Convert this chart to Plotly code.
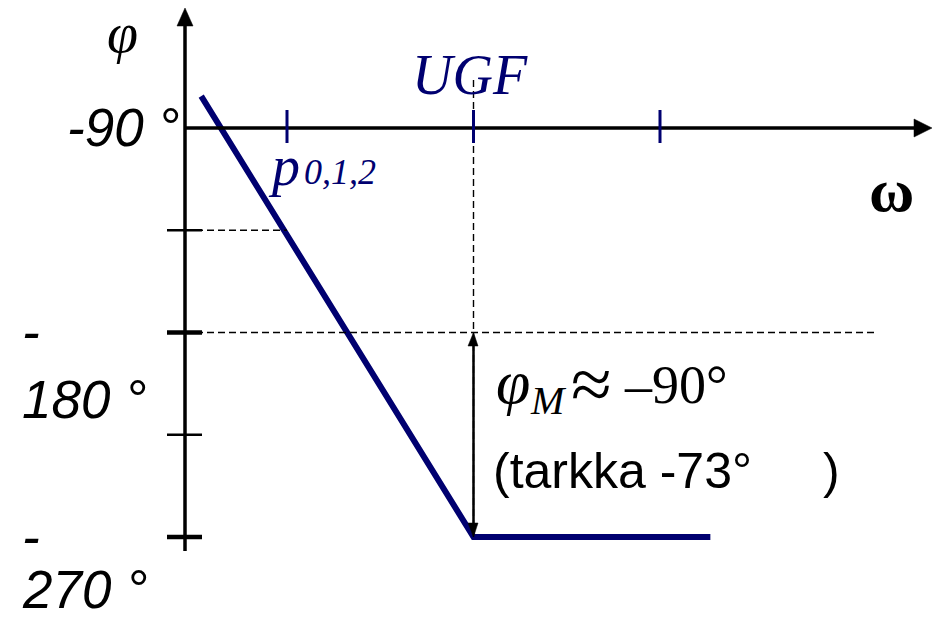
import plotly.graph_objects as go

# Asymptotic Bode phase plot of a three-pole loop (poles p0,1,2 coincide)
logw_line = [-0.46, 1.0, 2.27]        # log10(omega / p)
phase_line = [-76, -270, -270]        # phase, degrees

omega_ticks = [0, 1, 2]               # p0,1,2 ; UGF ; next decade
phase_ticks_major = [-180, -270]
phase_ticks_minor = [-135, -225]
ugf = 1.0
phase_ref = -180                      # stability limit
phase_at_p = -135

NAVY = "#000070"
SERIF = "Liberation Serif, Times New Roman, serif"
SANS = "Liberation Sans, Arial, sans-serif"

W, H = 934, 621
X0, DX = 287.0, 186.5                 # pixel of omega = p, pixels per decade
Y0, DY = 128.0, 409.0 / 180.0         # pixel of -90 deg, pixels per degree


def ux(px):
    return (px - X0) / DX


def uy(py):
    return -90 - (py - Y0) / DY


x_org = ux(185)
fig = go.Figure()

shapes = []


def seg(x0, y0, x1, y1, color="black", width=3.5, dash=None):
    d = dict(type="line", xref="x", yref="y", x0=x0, y0=y0, x1=x1, y1=y1,
             line=dict(color=color, width=width))
    if dash:
        d["line"]["dash"] = dash
    shapes.append(d)


def tri(pts, color="black"):
    path = "M " + " L ".join(f"{a},{b}" for a, b in pts) + " Z"
    shapes.append(dict(type="path", xref="x", yref="y", path=path,
                       fillcolor=color, line=dict(color=color, width=0.5)))


# dashed guide lines
seg(x_org, phase_at_p, 0, phase_at_p, width=1.4, dash="7px,4px")
seg(x_org, phase_ref, ux(878), phase_ref, width=1.4, dash="7px,4px")
seg(ugf, uy(80), ugf, -270, width=1.4, dash="7px,4px")

# axes with arrowheads
seg(x_org, -90, ux(916), -90, width=3.5)
tri([(ux(932), -90), (ux(914), uy(119)), (ux(914), uy(137))])
seg(x_org, uy(551), x_org, uy(24), width=3.5)
tri([(x_org, uy(8)), (ux(177), uy(26)), (ux(193), uy(26))])

# phase ticks
for p in phase_ticks_major:
    seg(ux(167), p, ux(202), p, width=4.5)
for p in phase_ticks_minor:
    seg(ux(167), p, ux(202), p, width=2.5)

# frequency ticks
for w in omega_ticks:
    seg(w, uy(110), w, uy(143), color=NAVY, width=3)

# phase margin double arrow
seg(ugf, uy(343), ugf, uy(526), width=2.5)
tri([(ugf, phase_ref), (ux(468), uy(346)), (ux(478), uy(346))])
tri([(ugf, -270), (ux(468), uy(523)), (ux(478), uy(523))])

fig.add_trace(go.Scatter(x=logw_line, y=phase_line, mode="lines",
                         line=dict(color=NAVY, width=6), hoverinfo="skip",
                         showlegend=False))

ann = []


def txt(x, y, s, size, family, color="black", xa="center", ya="middle"):
    ann.append(dict(x=ux(x), y=uy(y), xref="x", yref="y", text=s, showarrow=False,
                    xanchor=xa, yanchor=ya,
                    font=dict(size=size, family=family, color=color)))


txt(122, 33, "<i>φ</i>", 56, SERIF)
txt(182, 127, "<i>-90 °</i>", 53, SANS, xa="right")
txt(20, 331, "<i>-</i>", 53, SANS, xa="left")
txt(20, 399, "<i>180 °</i>", 53, SANS, xa="left")
txt(20, 536, "<i>-</i>", 53, SANS, xa="left")
txt(20, 621, "<i>270 °</i>", 53, SANS, xa="left", ya="bottom")
txt(470, 75, "<i>UGF</i>", 56, SERIF, color=NAVY)
txt(266, 166, "<i>p</i>", 56, SERIF, color=NAVY, xa="left")
txt(302, 172, "<i>0,1,2</i>", 36, SERIF, color=NAVY, xa="left")
txt(891, 190, "<b>ω</b>", 62, SERIF)

# phase margin label: φ_M ≈ –90°
txt(494, 382, "<i>φ</i>", 62, SERIF, xa="left")
txt(528, 400, "<i>M</i>", 40, SERIF, xa="left")
txt(569, 384, "≈", 74, SERIF, xa="left")
txt(622, 385, "–90°", 54, SERIF, xa="left")
txt(491, 471, "(tarkka -73°", 50, SANS, xa="left")
txt(821, 471, ")", 50, SANS, xa="left")

fig.update_layout(
    width=W, height=H,
    margin=dict(l=0, r=0, t=0, b=0, pad=0),
    paper_bgcolor="white", plot_bgcolor="white",
    xaxis=dict(range=[ux(0), ux(W)], visible=False, fixedrange=True),
    yaxis=dict(range=[uy(H), uy(0)], visible=False, fixedrange=True),
    shapes=shapes, annotations=ann, showlegend=False,
)

fig.write_html("out.html")
